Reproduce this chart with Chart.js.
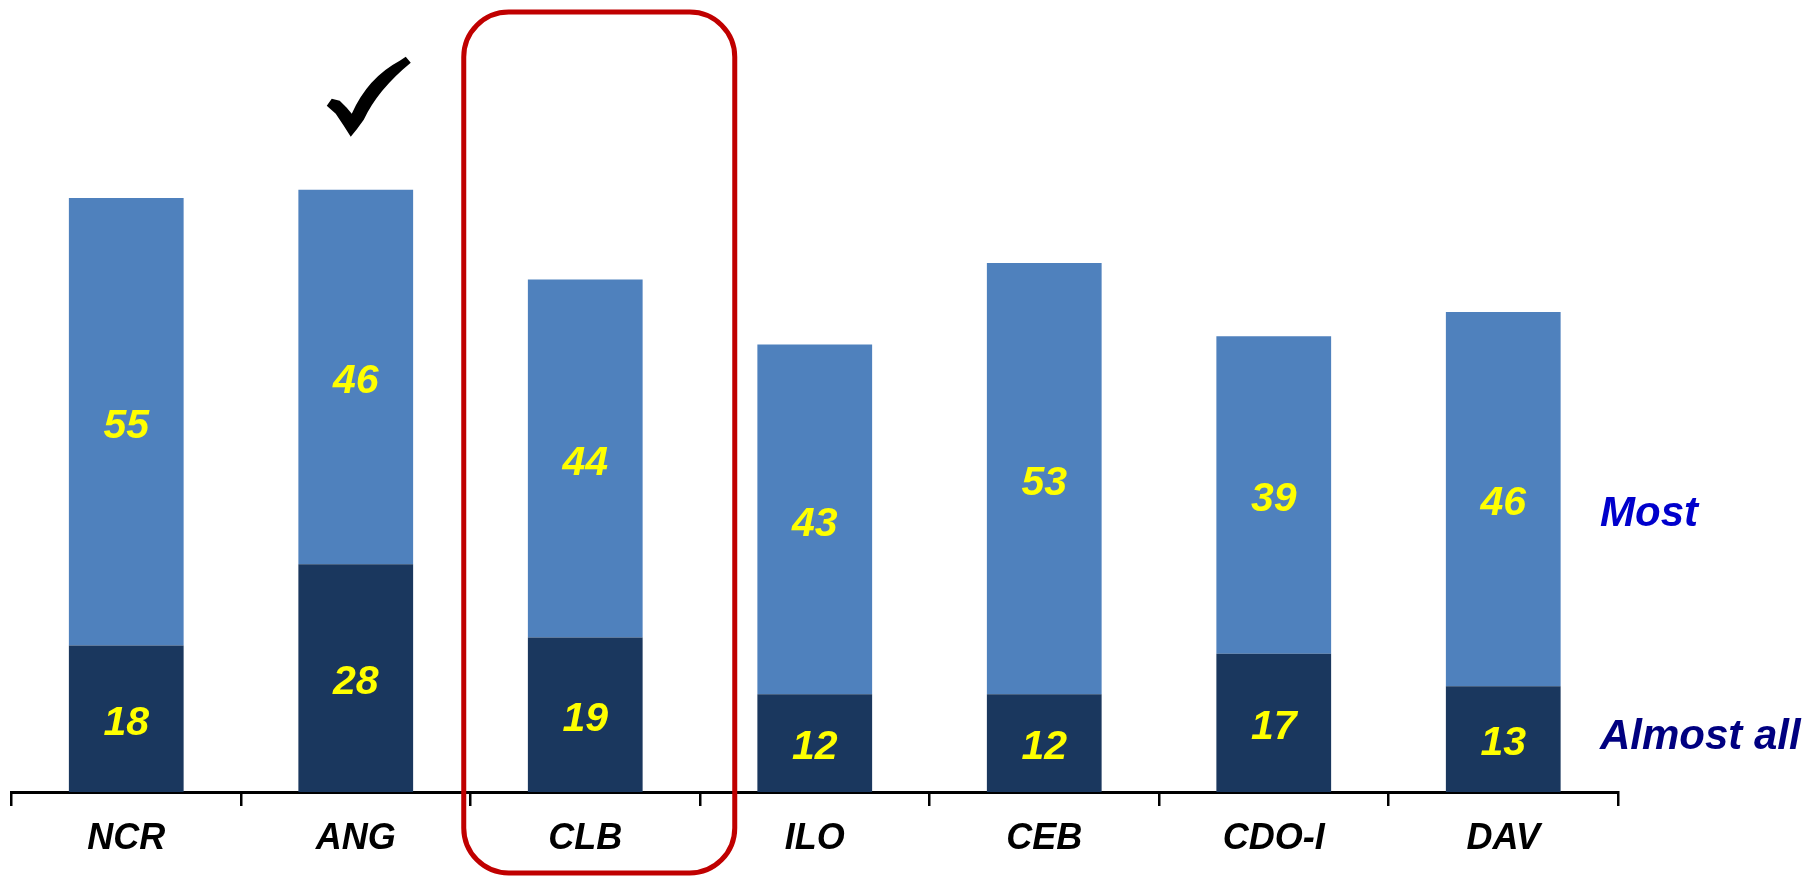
<!DOCTYPE html>
<html>
<head>
<meta charset="utf-8">
<script src="https://cdn.jsdelivr.net/npm/chart.js@4"></script>
<style>
body{margin:0;background:#fff}
#wrap{width:1808px;height:877px;position:relative}
</style>
</head>
<body>
<div id="wrap"><canvas id="barChart"></canvas></div>
<script>

const categories = ["NCR","ANG","CLB","ILO","CEB","CDO-I","DAV"]
const almostAll = [18,28,19,12,12,17,13]
const most = [55,46,44,43,53,39,46]
const seriesNames = ["Almost all","Most"]

const FONT = "'Liberation Sans', Arial, sans-serif"

// yellow numbers in the middle of each segment
const valueLabels = {
id:"valueLabels",
afterDatasetsDraw(chart){
const ctx = chart.ctx
ctx.save()
ctx.font = "italic bold 41px " + FONT
ctx.fillStyle = "#FFFF00"
ctx.textAlign = "center"
ctx.textBaseline = "middle"
chart.data.datasets.forEach((ds,i)=>{
chart.getDatasetMeta(i).data.forEach((bar,j)=>{
ctx.fillText(ds.data[j], bar.x, (bar.y + bar.base)/2 + 5)
})
})
ctx.restore()
}
}

// series names on the right, next to the last bar
const sideLabels = {
id:"sideLabels",
afterDraw(chart){
const ctx = chart.ctx
const y = chart.scales.y
const x0 = chart.chartArea.right - 18
ctx.save()
ctx.font = "italic bold 42px " + FONT
ctx.textAlign = "left"
ctx.textBaseline = "middle"
ctx.fillStyle = "#0000CC"
ctx.fillText(seriesNames[1], x0, y.getPixelForValue(34.1))
ctx.fillStyle = "#000080"
ctx.fillText(seriesNames[0], x0, y.getPixelForValue(6.7))
ctx.restore()
}
}

// red rounded box round CLB and the check mark over ANG
const marks = {
id:"marks",
afterDraw(chart){
const ctx = chart.ctx
const xs = chart.scales.x

const cx = xs.getPixelForValue(2)
const l = cx - 121.5, r = cx + 149.5, t = 12, b = 873, rad = 45
ctx.save()
ctx.strokeStyle = "#C00000"
ctx.lineWidth = 5
ctx.beginPath()
ctx.moveTo(l + rad, t)
ctx.arcTo(r, t, r, b, rad)
ctx.arcTo(r, b, l, b, rad)
ctx.arcTo(l, b, l, t, rad)
ctx.arcTo(l, t, r, t, rad)
ctx.closePath()
ctx.stroke()

const bar = chart.getDatasetMeta(1).data[1]
const ax = bar.x, ay = bar.y
const p = (dx,dy)=>[ax+dx, ay+dy]
ctx.fillStyle = "#000"
ctx.beginPath()
ctx.moveTo(...p(-29,-84))
ctx.lineTo(...p(-24,-91))
ctx.lineTo(...p(-16,-89))
ctx.lineTo(...p(-9,-82))
ctx.lineTo(...p(-4,-76))
ctx.quadraticCurveTo(...p(12,-112), ...p(44,-129))
ctx.lineTo(...p(50,-133))
ctx.lineTo(...p(55,-127))
ctx.quadraticCurveTo(...p(22,-100), ...p(8,-70))
ctx.quadraticCurveTo(...p(1,-60), ...p(-5,-53))
ctx.lineTo(...p(-12,-64))
ctx.lineTo(...p(-20,-76))
ctx.closePath()
ctx.fill()
ctx.restore()
}
}

new Chart(document.getElementById("barChart"),{
type:"bar",
data:{
labels:categories,
datasets:[
{
label:seriesNames[0],
data:almostAll,
backgroundColor:"#1A375E",
categoryPercentage:1,
barPercentage:0.5
},
{
label:seriesNames[1],
data:most,
backgroundColor:"#4F81BD",
categoryPercentage:1,
barPercentage:0.5
}
]
},
options:{
responsive:true,
maintainAspectRatio:false,
animation:false,
layout:{padding:{left:11.5,right:190,top:19,bottom:0}},
plugins:{
legend:{display:false},
tooltip:{enabled:false}
},
scales:{
x:{
stacked:true,
afterFit(scale){ scale.height = 85 },
grid:{
offset:true,
drawOnChartArea:false,
drawTicks:true,
tickLength:14,
color:"#000",
lineWidth:2.5
},
border:{display:true,color:"#000",width:3},
ticks:{
color:"#000",
padding:11,
font:{family:FONT,size:36,weight:"bold",style:"italic"}
}
},
y:{
stacked:true,
display:false,
min:0,
max:95
}
}
},
plugins:[valueLabels,sideLabels,marks]
})

</script>
</body>
</html>
